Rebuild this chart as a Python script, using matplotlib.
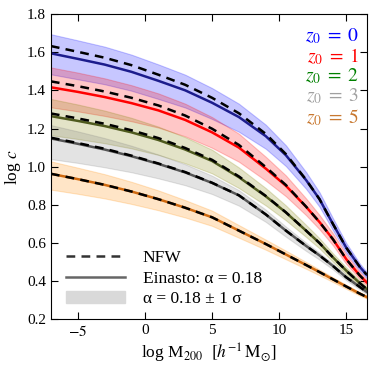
import matplotlib
matplotlib.use("Agg")
import matplotlib.pyplot as plt
from matplotlib.patches import Patch
from matplotlib.lines import Line2D

plt.rcParams["font.family"] = ["Liberation Serif", "DejaVu Serif"]
plt.rcParams["mathtext.fontset"] = "stix"

# log M200 sample points
logm = [-7, -5, -3, -1, 1, 3, 5, 7, 9, 10.5, 12, 13, 14, 15, 16, 16.5]

# z0 = 0
ein_z0 = [1.594, 1.565, 1.535, 1.497, 1.45, 1.40, 1.335, 1.26, 1.16, 1.06, 0.93, 0.83, 0.70, 0.575, 0.475, 0.435]
nfw_z0 = [1.632, 1.602, 1.571, 1.532, 1.482, 1.429, 1.361, 1.28, 1.172, 1.066, 0.932, 0.83, 0.70, 0.575, 0.475, 0.435]
hi_z0 = [1.694, 1.662, 1.629, 1.587, 1.536, 1.482, 1.412, 1.33, 1.22, 1.112, 0.972, 0.866, 0.73, 0.599, 0.493, 0.45]
lo_z0 = [1.484, 1.458, 1.432, 1.398, 1.355, 1.31, 1.25, 1.183, 1.094, 1.003, 0.884, 0.79, 0.667, 0.549, 0.455, 0.418]

# z0 = 1
ein_z1 = [1.416, 1.392, 1.365, 1.333, 1.295, 1.245, 1.18, 1.10, 0.99, 0.90, 0.79, 0.71, 0.62, 0.515, 0.43, 0.395]
nfw_z1 = [1.447, 1.422, 1.394, 1.361, 1.321, 1.268, 1.199, 1.114, 0.998, 0.904, 0.791, 0.71, 0.62, 0.515, 0.43, 0.395]
hi_z1 = [1.52, 1.493, 1.463, 1.427, 1.384, 1.33, 1.26, 1.173, 1.052, 0.954, 0.834, 0.747, 0.651, 0.54, 0.449, 0.411]
lo_z1 = [1.311, 1.29, 1.266, 1.238, 1.205, 1.159, 1.099, 1.026, 0.927, 0.845, 0.746, 0.672, 0.588, 0.49, 0.411, 0.379]

# z0 = 2
ein_z2 = [1.265, 1.24, 1.213, 1.18, 1.14, 1.09, 1.03, 0.945, 0.845, 0.76, 0.665, 0.60, 0.525, 0.455, 0.39, 0.36]
nfw_z2 = [1.279, 1.253, 1.225, 1.191, 1.15, 1.098, 1.036, 0.949, 0.847, 0.761, 0.665, 0.60, 0.525, 0.455, 0.39, 0.36]
hi_z2 = [1.355, 1.326, 1.294, 1.256, 1.21, 1.155, 1.089, 0.996, 0.888, 0.797, 0.695, 0.625, 0.546, 0.472, 0.404, 0.372]
lo_z2 = [1.165, 1.145, 1.123, 1.096, 1.062, 1.018, 0.965, 0.888, 0.797, 0.719, 0.632, 0.572, 0.502, 0.436, 0.375, 0.347]

# z0 = 3
ein_z3 = [1.148, 1.12, 1.09, 1.055, 1.015, 0.97, 0.915, 0.85, 0.75, 0.665, 0.585, 0.535, 0.48, 0.42, 0.37, 0.345]
nfw_z3 = [1.152, 1.124, 1.094, 1.058, 1.017, 0.972, 0.916, 0.85, 0.75, 0.665, 0.585, 0.535, 0.48, 0.42, 0.37, 0.345]
hi_z3 = [1.218, 1.185, 1.15, 1.11, 1.064, 1.013, 0.953, 0.877, 0.775, 0.686, 0.602, 0.549, 0.492, 0.43, 0.378, 0.352]
lo_z3 = [1.04, 1.02, 0.997, 0.971, 0.939, 0.903, 0.857, 0.796, 0.711, 0.633, 0.559, 0.513, 0.462, 0.405, 0.357, 0.334]

# z0 = 5
ein_z5 = [0.963, 0.935, 0.905, 0.87, 0.83, 0.785, 0.735, 0.665, 0.595, 0.54, 0.485, 0.448, 0.41, 0.372, 0.335, 0.318]
nfw_z5 = [0.963, 0.935, 0.905, 0.87, 0.83, 0.785, 0.735, 0.665, 0.595, 0.54, 0.485, 0.448, 0.41, 0.372, 0.335, 0.318]
hi_z5 = [1.028, 0.995, 0.961, 0.921, 0.876, 0.825, 0.77, 0.694, 0.618, 0.56, 0.501, 0.461, 0.421, 0.381, 0.343, 0.325]
lo_z5 = [0.88, 0.858, 0.834, 0.805, 0.772, 0.734, 0.69, 0.628, 0.565, 0.515, 0.465, 0.431, 0.396, 0.36, 0.325, 0.31]

labels = ["0", "1", "2", "3", "5"]

# (line colour, band colour, label colour)
estilos = [
    ("#1c1c8c", "blue", "blue"),
    ("red", "red", "red"),
    ("#4f5a1e", "olive", "green"),
    ("#555555", "gray", "#a0a0a0"),
    ("#d06a10", "darkorange", "#c87830"),
]

curvas = [
    (ein_z0, nfw_z0, hi_z0, lo_z0),
    (ein_z1, nfw_z1, hi_z1, lo_z1),
    (ein_z2, nfw_z2, hi_z2, lo_z2),
    (ein_z3, nfw_z3, hi_z3, lo_z3),
    (ein_z5, nfw_z5, hi_z5, lo_z5),
]

fig = plt.figure(figsize=(3.74, 3.68), dpi=100)
ax = fig.add_axes([0.136, 0.132, 0.844, 0.830])

for (ein, nfw, hi, lo), (cl, cb, ct) in zip(curvas, estilos):
    ax.fill_between(logm, lo, hi, facecolor=cb, edgecolor=cb, alpha=0.22, linewidth=0.8)
    ax.plot(logm, ein, color=cl, lw=1.8)
    ax.plot(logm, nfw, color="black", lw=1.8, ls=(0, (3.5, 2.5)))

ax.set_xlim(-7, 16.5)
ax.set_ylim(0.2, 1.8)
ax.set_xticks([-5, 0, 5, 10, 15])
ax.set_yticks([0.2, 0.4, 0.6, 0.8, 1.0, 1.2, 1.4, 1.6, 1.8])
ax.set_xticklabels(["$-5$", "0", "5", "10", "15"])
ax.tick_params(direction="in", top=True, right=True, labelsize=11, length=5)
ax.set_xlabel(r"log M$_{200}$  $[h^{-1}\,\mathrm{M}_{\odot}]$", fontsize=12.5, labelpad=2)
ax.set_ylabel(r"log $c$", fontsize=12.5, labelpad=3)

for i, (lab, (cl, cb, ct)) in enumerate(zip(labels, estilos)):
    ax.text(0.975, 0.96 - i * 0.066, rf"$z_0\;=\;{lab}$", color=ct,
            transform=ax.transAxes, ha="right", va="top", fontsize=14)

handles = [
    Line2D([], [], color="#333333", lw=1.8, ls=(0, (3.5, 2.5))),
    Line2D([], [], color="#666666", lw=1.8),
    Patch(facecolor="#d9d9d9", edgecolor="#d9d9d9"),
]
ax.legend(handles, ["NFW", "Einasto: α = 0.18", "α = 0.18 ± 1 σ"],
          loc="lower left", frameon=False, fontsize=12.5, handlelength=3.4,
          handletextpad=1.0, labelspacing=0.25, borderaxespad=0.3,
          bbox_to_anchor=(0.01, 0.0))

fig.savefig("out.png", dpi=100)
